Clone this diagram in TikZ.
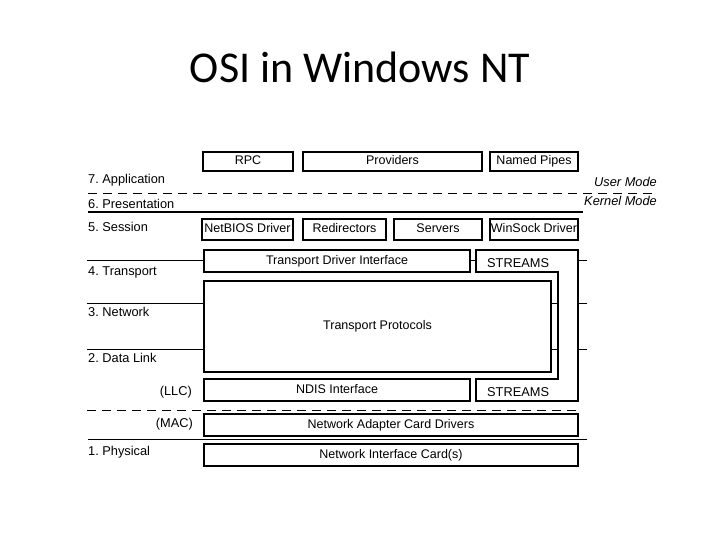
\documentclass[tikz,border=0pt]{standalone}
\usepackage{fontspec}
\setmainfont{Liberation Sans}
\newfontfamily\titlefont{Carlito}
\frenchspacing
\begin{document}
\begin{tikzpicture}[x=1pt,y=-1pt,
  lbl/.style={font=\fontsize{12.8}{14}\selectfont, inner sep=0pt},
  box/.style={draw, line width=1.2pt, font=\fontsize{12.5}{14}\selectfont, inner sep=0pt,
              text height=9pt, text depth=2.6pt},
  layer/.style={line width=0.9pt},
  modeline/.style={line width=0.9pt, dash pattern=on 9pt off 6pt},
  tick/.style={line width=0.9pt}]
\useasboundingbox (0,0) rectangle (720,540);
\fill[white] (0,0) rectangle (720,540);
% title
\node[font=\titlefont\fontsize{44}{50}\selectfont, anchor=base, inner sep=0pt] (title) at (360,83) {OSI in Windows NT};
% top row boxes
\node[box, minimum width=90pt, minimum height=19pt] (rpc) at (248,161.5) {RPC};
\node[box, minimum width=179pt, minimum height=19pt] (prov) at (392.5,161.5) {Providers};
\node[box, minimum width=88pt, minimum height=19pt] (pipes) at (534,161.5) {Named Pipes};
% session row boxes
\node[box, minimum width=91pt, minimum height=21pt] (netbios) at (247.5,229.5) {NetBIOS Driver};
\node[box, minimum width=83pt, minimum height=21pt] (redir) at (344.5,229.5) {Redirectors};
\node[box, minimum width=88pt, minimum height=21pt] (servers) at (438,229.5) {Servers};
\node[box, minimum width=88pt, minimum height=21pt] (winsock) at (534,229.5) {WinSock Driver};
% transport stack
\node[box, minimum width=266pt, minimum height=22pt] (tdi) at (337,261) {Transport Driver Interface};
\node[box, minimum width=347pt, minimum height=91pt] (tp) at (377.5,326.5) {Transport Protocols};
\node[box, minimum width=266pt, minimum height=22pt] (ndis) at (337,390) {NDIS Interface};
\node[box, minimum width=374pt, minimum height=22pt] (nacd) at (391,425) {Network Adapter Card Drivers};
\node[box, minimum width=374pt, minimum height=22pt] (nic) at (391,455) {Network Interface Card(s)};
% STREAMS frame
\coordinate (s1) at (476,250);
\coordinate (s2) at (578,250);
\coordinate (s3) at (578,401);
\coordinate (s4) at (476,401);
\coordinate (s5) at (476,379);
\coordinate (s6) at (558,379);
\coordinate (s7) at (558,272);
\coordinate (s8) at (476,272);
\draw[line width=1.2pt, line join=miter] (s1) -- (s2) -- (s3) -- (s4) -- (s5) -- (s6) -- (s7) -- (s8) -- cycle;
\node[lbl, anchor=base west] (stU) at (487,267) {STREAMS};
\node[lbl, anchor=base west] (stL) at (487,396) {STREAMS};
% left labels
\node[lbl, anchor=base west] (l7) at (88,184) {7. Application};
\node[lbl, anchor=base west] (l6) at (88,208) {6. Presentation};
\node[lbl, anchor=base west] (l5) at (88,231) {5. Session};
\node[lbl, anchor=base west] (l4) at (88,275) {4. Transport};
\node[lbl, anchor=base west] (l3) at (88,316) {3. Network};
\node[lbl, anchor=base west] (l2) at (88,362) {2. Data Link};
\node[lbl, anchor=base east] (llc) at (192,395) {(LLC)};
\node[lbl, anchor=base east] (mac) at (193,427) {(MAC)};
\node[lbl, anchor=base west] (l1) at (88,455) {1. Physical};
% mode labels
\node[lbl, anchor=base east, font=\fontsize{12.8}{14}\selectfont\itshape] (umode) at (657,187) {User Mode};
\node[lbl, anchor=base east, font=\fontsize{12.8}{14}\selectfont\itshape] (kmode) at (657,206) {Kernel Mode};
% mode lines
\coordinate (ua) at (88,193); \coordinate (ub) at (657,193);
\draw[modeline] (ua) -- (ub);
\coordinate (ka) at (88,212); \coordinate (kb) at (583,212);
\draw[line width=2pt] (ka) -- (kb);
% layer lines
\coordinate (t4) at (87,260);
\draw[layer] (t4) -- (t4 -| tdi.west);
\coordinate (n3) at (87,303);
\draw[layer] (n3) -- (n3 -| tp.west);
\coordinate (d2) at (87,349);
\draw[layer] (d2) -- (d2 -| tp.west);
\coordinate (da) at (87,410); \coordinate (db) at (580,410);
\draw[modeline] (da) -- (db);
\coordinate (pa) at (88,439); \coordinate (pb) at (587,439);
\draw[layer] (pa) -- (pb);
% ticks
\draw[tick] (tdi.east |- 0,260) -- (s1 |- 0,260);
\draw[tick] (tp.east |- 0,303) -- (s7 |- 0,303);
\draw[tick] (tp.east |- 0,349) -- (s7 |- 0,349);
\coordinate (r4) at (587,260); \coordinate (r3) at (587,303); \coordinate (r2) at (587,349);
\draw[tick] (s2 |- r4) -- (r4);
\draw[tick] (s2 |- r3) -- (r3);
\draw[tick] (s2 |- r2) -- (r2);
\end{tikzpicture}
\end{document}
